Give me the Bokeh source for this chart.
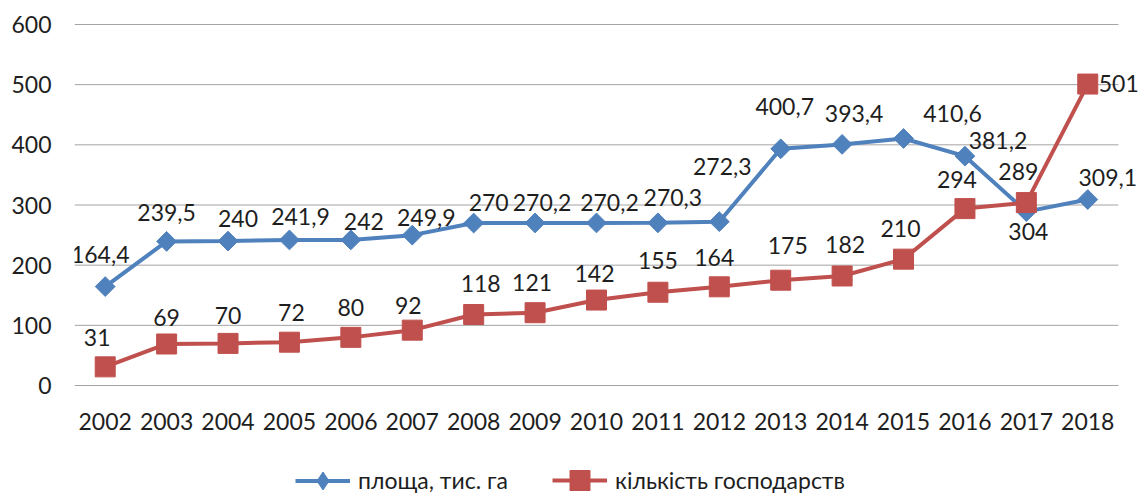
import math
from bokeh.plotting import figure
from bokeh.layouts import column
from bokeh.models import (ColumnDataSource, Range1d, FixedTicker,
                          LabelSet, Legend, LegendItem)
from bokeh.core.properties import value
from bokeh.embed import file_html
from bokeh.resources import INLINE

# ---------------- data ----------------
years = ["2002", "2003", "2004", "2005", "2006", "2007", "2008", "2009", "2010",
         "2011", "2012", "2013", "2014", "2015", "2016", "2017", "2018"]
area = [164.4, 239.5, 240, 241.9, 242, 249.9, 270, 270.2, 270.2, 270.3, 272.3,
        393.4, 400.7, 410.6, 381.2, 289, 309.1]
area_labels = ["164,4", "239,5", "240", "241,9", "242", "249,9", "270", "270,2",
               "270,2", "270,3", "272,3", "400,7", "393,4", "410,6", "381,2",
               "289", "309,1"]
farms = [31, 69, 70, 72, 80, 92, 118, 121, 142, 155, 164, 175, 182, 210, 294,
         304, 501]
farm_labels = ["31", "69", "70", "72", "80", "92", "118", "121", "142", "155",
               "164", "175", "182", "210", "294", "304", "501"]
y_ticks = [0, 100, 200, 300, 400, 500, 600]
series_names = ["площа, тис. га", "кількість господарств"]

# label placement offsets (screen px; dy positive = up)
area_dx = [-5, 0, 10, 11, 13, 14, 15, 7, 13, 15, 3, 4, 12, 49, 33, -8, 20]
area_dy = [32, 29, 23, 23, 18, 18, 21, 20, 20, 25, 55, 42, 31, 25, 16, 40, 22]
farm_dx = [-8, 0, 0, 2, 0, -4, 7, -3, -2, 0, -5, 7, 3, -3, -8, 2, 31]
farm_dy = [29, 26, 28, 30, 30, 25, 31, 30, 27, 32, 29, 35, 31, 31, 29, -29, 1]

BLUE = "#4F81BD"
RED = "#C0504D"
TEXT = "#1E1E1E"
GRID = "#A3A3A3"
FONT = "Lato"
FS = "23px"
W = 1139

n = len(years)
idx = list(range(n))
cat_px = 61.41                      # width of one category slot in pixels
frame_w = W - 74                    # plot frame runs to the right edge
x_end = -0.5 + frame_w / cat_px     # leaves room for the end labels
pad = 4 / 0.6017                    # 4px of room around the 0 and 600 gridlines

p = figure(width=W, height=445, output_backend="svg", toolbar_location=None,
           x_range=Range1d(-0.5, x_end),
           y_range=Range1d(y_ticks[0] - pad, y_ticks[-1] + pad),
           min_border_left=74, min_border_right=0, min_border_top=20,
           min_border_bottom=56)
p.outline_line_color = None
p.background_fill_color = "white"
p.border_fill_color = "white"
p.xgrid.grid_line_color = None
p.ygrid.grid_line_color = None

p.xaxis.ticker = FixedTicker(ticks=idx)
p.xaxis.major_label_overrides = {i: y for i, y in zip(idx, years)}
p.yaxis.ticker = FixedTicker(ticks=y_ticks)

for ax in (p.xaxis[0], p.yaxis[0]):
    ax.axis_line_color = None
    ax.major_tick_line_color = None
    ax.minor_tick_line_color = None
    ax.major_tick_out = 0
    ax.major_tick_in = 0
    ax.major_label_text_font = FONT
    ax.major_label_text_font_size = FS
    ax.major_label_text_color = TEXT
p.yaxis.major_label_standoff = 23
p.xaxis.major_label_standoff = 23

# horizontal gridlines spanning the category slots
grid_src = ColumnDataSource(dict(y=y_ticks, x0=[-0.5] * len(y_ticks),
                                 x1=[n - 0.5] * len(y_ticks)))
p.segment(x0="x0", x1="x1", y0="y", y1="y", source=grid_src,
          line_color=GRID, line_width=1)

src_a = ColumnDataSource(dict(x=idx, y=area, text=area_labels, dx=area_dx, dy=area_dy))
src_f = ColumnDataSource(dict(x=idx, y=farms, text=farm_labels, dx=farm_dx, dy=farm_dy))

blue_line = dict(line_color=BLUE, line_width=4)
blue_mark = dict(marker="square", angle=math.pi / 4, fill_color=BLUE, line_color=BLUE)
red_line = dict(line_color=RED, line_width=4)
red_mark = dict(marker="square", fill_color=RED, line_color=RED)

p.line("x", "y", source=src_a, **blue_line)
p.scatter("x", "y", source=src_a, size=14, **blue_mark)
p.line("x", "y", source=src_f, **red_line)
p.scatter("x", "y", source=src_f, size=20, **red_mark)

for src in (src_a, src_f):
    p.add_layout(LabelSet(x="x", y="y", text="text", x_offset="dx", y_offset="dy",
                          source=src, text_align="center", text_baseline="middle",
                          text_font=value(FONT), text_font_size=FS, text_color=TEXT))

# ---------------- legend strip ----------------
lg = figure(width=W, height=48, output_backend="svg", toolbar_location=None,
            x_range=Range1d(0, 1), y_range=Range1d(0, 1),
            min_border=0, x_axis_type=None, y_axis_type=None)
lg.outline_line_color = None
lg.xgrid.grid_line_color = None
lg.ygrid.grid_line_color = None
b1 = lg.line("x", "y", source=src_a, visible=False, **blue_line)
b2 = lg.scatter("x", "y", source=src_a, visible=False, marker="diamond",
                fill_color=BLUE, line_color=BLUE)
r1 = lg.line("x", "y", source=src_f, visible=False, **red_line)
r2 = lg.scatter("x", "y", source=src_f, visible=False, **red_mark)

def mk_legend(name, rends, loc, gh):
    leg = Legend(items=[LegendItem(label=name, renderers=rends)], location=loc,
                 orientation="horizontal", glyph_width=55, glyph_height=gh,
                 label_standoff=8, padding=0, margin=0, border_line_color=None,
                 background_fill_alpha=0, inactive_fill_alpha=0,
                 label_text_font=FONT, label_text_font_size=FS,
                 label_text_color=TEXT)
    lg.add_layout(leg)

mk_legend(series_names[0], [b1, b2], (221, -9.5), 45)
mk_legend(series_names[1], [r1, r2], (478, -12), 50)

open("out.html", "w").write(file_html(column(p, lg, spacing=0), INLINE))
